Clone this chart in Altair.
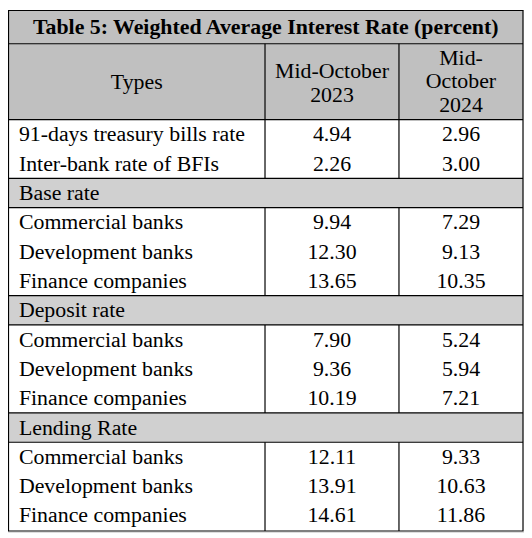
import altair as alt
import pandas as pd

# ---- data ----
title = "Table 5: Weighted Average Interest Rate (percent)"
header_col1 = ["Types"]
header_col2 = ["Mid-October", "2023"]
header_col3 = ["Mid-", "October", "2024"]

row_labels = [
    "91-days treasury bills rate", "Inter-bank rate of BFIs",
    "Base rate",
    "Commercial banks", "Development banks", "Finance companies",
    "Deposit rate",
    "Commercial banks", "Development banks", "Finance companies",
    "Lending Rate",
    "Commercial banks", "Development banks", "Finance companies",
]
is_section = [False, False, True, False, False, False, True,
              False, False, False, True, False, False, False]
mid_oct_2023 = ["4.94", "2.26", "", "9.94", "12.30", "13.65", "",
                "7.90", "9.36", "10.19", "", "12.11", "13.91", "14.61"]
mid_oct_2024 = ["2.96", "3.00", "", "7.29", "9.13", "10.35", "",
                "5.24", "5.94", "7.21", "", "9.33", "10.63", "11.86"]

# ---- layout (page pixel coordinates) ----
W, H = 520, 526
X0, X1 = 8.5, 527
XS1, XS2 = 267, 402
Y_TOP, Y_TITLE, Y_HEAD = 8.5, 42, 118.5
PITCH = 29.55
Y_BOT = 533
LABEL_X = 19
C2 = (XS1 + XS2) / 2
C3 = (XS2 + X1) / 2
FONT = "'Liberation Serif', 'Times New Roman', serif"
FS = 22

xs = alt.Scale(domain=[8, 8 + W], nice=False, zero=False)
ys = alt.Scale(domain=[8, 8 + H], nice=False, zero=False, reverse=True)

n = len(row_labels)
tops = [Y_HEAD + i * PITCH for i in range(n)]
bots = [t + PITCH for t in tops]
bots[-1] = Y_BOT

bands = [
    dict(x=X0, x2=X1, y=Y_TOP, y2=Y_TITLE, c="#C0C0C0"),
    dict(x=X0, x2=X1, y=Y_TITLE, y2=Y_HEAD, c="#C0C0C0"),
]
for i in range(n):
    if is_section[i]:
        bands.append(dict(x=X0, x2=X1, y=tops[i], y2=bots[i], c="#D0D0D0"))
bands_df = pd.DataFrame(bands)

segs = []
start = Y_TITLE
for i in range(n):
    if is_section[i]:
        segs.append((start, tops[i]))
        start = bots[i]
segs.append((start, Y_BOT))
vrows = []
for a, b in segs:
    for xv in (XS1, XS2):
        vrows.append(dict(x=xv, y=a, y2=b))
v_df = pd.DataFrame(vrows)

hy = [Y_TITLE, Y_HEAD]
for i in range(n):
    if is_section[i]:
        hy += [tops[i], bots[i]]
h_df = pd.DataFrame(dict(y=hy, x=[X0] * len(hy), x2=[X1] * len(hy)))

txt = []
txt.append(dict(x=(X0 + X1) / 2, y=25.5, t=title, w="bold", a="center"))
txt.append(dict(x=(X0 + XS1) / 2, y=81, t=header_col1[0], w="normal", a="center"))
for t, yv in zip(header_col2, [70, 94]):
    txt.append(dict(x=C2, y=yv, t=t, w="normal", a="center"))
for t, yv in zip(header_col3, [56, 80, 104]):
    txt.append(dict(x=C3, y=yv, t=t, w="normal", a="center"))
for i in range(n):
    cy = tops[i] + PITCH / 2
    txt.append(dict(x=LABEL_X, y=cy, t=row_labels[i], w="normal", a="left"))
    if mid_oct_2023[i]:
        txt.append(dict(x=C2, y=cy, t=mid_oct_2023[i], w="normal", a="center"))
    if mid_oct_2024[i]:
        txt.append(dict(x=C3, y=cy, t=mid_oct_2024[i], w="normal", a="center"))
txt_df = pd.DataFrame(txt)

X = lambda f: alt.X(f, type="quantitative", scale=xs, axis=None)
Y = lambda f: alt.Y(f, type="quantitative", scale=ys, axis=None)

band_layer = alt.Chart(bands_df).mark_rect().encode(
    x=X("x"), x2="x2", y=Y("y"), y2="y2",
    color=alt.Color("c:N", scale=None),
)
v_layer = alt.Chart(v_df).mark_rule(color="black", strokeWidth=1.2).encode(
    x=X("x"), y=Y("y"), y2="y2"
)
h_layer = alt.Chart(h_df).mark_rule(color="black", strokeWidth=1.2).encode(
    y=Y("y"), x=X("x"), x2="x2"
)
border_df = pd.DataFrame([dict(x=X0, x2=X1, y=Y_TOP, y2=Y_BOT)])
border_layer = alt.Chart(border_df).mark_rect(
    fill=None, stroke="black", strokeWidth=1.2, fillOpacity=0
).encode(x=X("x"), x2="x2", y=Y("y"), y2="y2")

left_txt = alt.Chart(txt_df[txt_df.a == "left"]).mark_text(
    font=FONT, fontSize=FS, align="left", baseline="middle", color="black"
).encode(x=X("x"), y=Y("y"), text="t:N")
center_txt = alt.Chart(txt_df[(txt_df.a == "center") & (txt_df.w == "normal")]).mark_text(
    font=FONT, fontSize=FS, align="center", baseline="middle", color="black"
).encode(x=X("x"), y=Y("y"), text="t:N")
title_txt = alt.Chart(txt_df[txt_df.w == "bold"]).mark_text(
    font=FONT, fontSize=FS, fontWeight="bold", align="center", baseline="middle", color="black"
).encode(x=X("x"), y=Y("y"), text="t:N")

chart = alt.layer(
    band_layer, v_layer, h_layer, border_layer, left_txt, center_txt, title_txt
).properties(
    width=W, height=H, padding=0, autosize=alt.AutoSizeParams(type="none")
).configure_view(stroke=None).configure(background="white")

chart.save("out.html", embed_options={"renderer": "svg", "actions": False})
